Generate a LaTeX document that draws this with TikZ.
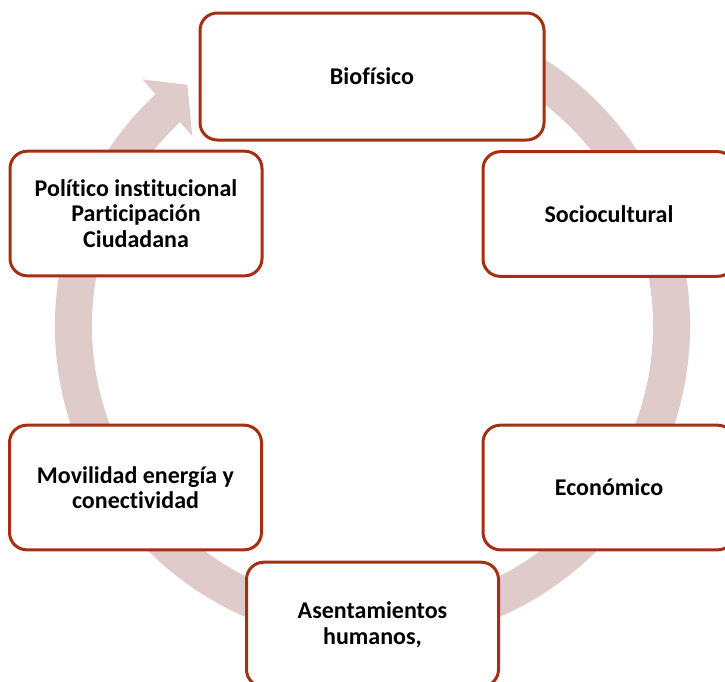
\documentclass[tikz,border=0pt]{standalone}
\usepackage{fontspec}
\setmainfont[Ligatures=NoCommon]{Carlito}
\definecolor{borde}{RGB}{163,48,18}
\definecolor{anillo}{RGB}{224,203,203}

\begin{document}
\begin{tikzpicture}[x=0.75pt,y=-0.75pt,
    caja/.style={draw=borde,line width=2.25pt,fill=white,rounded corners=13pt,
      align=center,font=\fontsize{18pt}{19.1pt}\selectfont\bfseries,
      minimum width=189pt,minimum height=93.5pt,inner sep=0pt}]
      \useasboundingbox (0,0) rectangle (725,682);

      % anillo con flecha
      \begin{scope}[shift={(372.5,326)},y=0.75pt]
        \draw[anillo,line width=27.75pt] (72:299) arc[start angle=72,end angle=-227,radius=299];
        \fill[anillo] (133:337) -- (127.5:304) -- (133.5:262) -- cycle;
      \end{scope}

      \node[caja,minimum width=258pt,minimum height=95.25pt] (bio) at (372,76.5) {Biofísico};
      \node[caja] (socio) at (609,214) {Sociocultural};
      \node[caja] (eco) at (609,487.5) {Económico};
      \node[caja] (asent) at (372.5,624.5) {Asentamientos\\humanos,};
      \node[caja] (movil) at (135.5,487.5) {Movilidad energía y\\conectividad};
      \node[caja] (polit) at (136,213.5) {Político institucional\\Participación\\Ciudadana};
    \end{tikzpicture}
\end{document}
